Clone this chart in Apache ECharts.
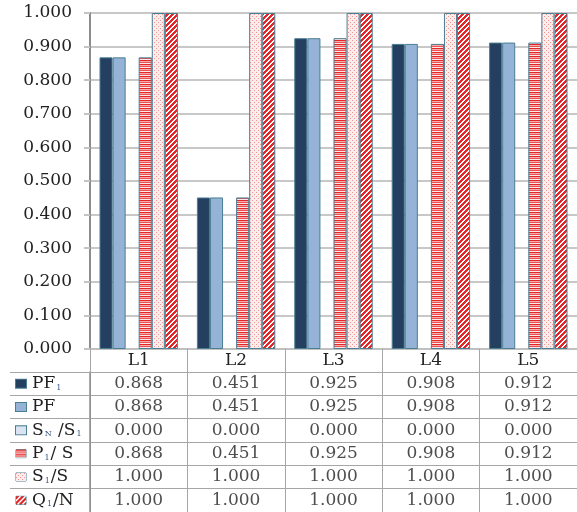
<!DOCTYPE html>
<html>
<head>
<meta charset="utf-8">
<script src="https://cdn.jsdelivr.net/npm/echarts@6/dist/echarts.min.js"></script>
<style>html,body{margin:0;padding:0;background:#fff;}#c{width:577px;height:512px;}</style>
</head>
<body>
<div id="c"></div>
<script>
// ---- data ----
const categories = ['L1', 'L2', 'L3', 'L4', 'L5'];
const seriesKeys = ['PF1', 'PF', 'SN/S1', 'P1/S', 'S1/S', 'Q1/N'];
const pf1 = [0.868, 0.451, 0.925, 0.908, 0.912];
const pf  = [0.868, 0.451, 0.925, 0.908, 0.912];
const snS1 = [0.000, 0.000, 0.000, 0.000, 0.000];
const p1S = [0.868, 0.451, 0.925, 0.908, 0.912];
const s1S = [1.000, 1.000, 1.000, 1.000, 1.000];
const q1N = [1.000, 1.000, 1.000, 1.000, 1.000];
const yMin = 0, yMax = 1, yStep = 0.1;

const allValues = [pf1, pf, snS1, p1S, s1S, q1N];

// ---- patterns ----
function pix(w, h, fn) {
  const c = document.createElement('canvas');
  c.width = w; c.height = h;
  const ctx = c.getContext('2d');
  const img = ctx.createImageData(w, h);
  for (let y = 0; y < h; y++) for (let x = 0; x < w; x++) {
    const col = fn(x, y);
    const i = (y * w + x) * 4;
    img.data[i] = col[0]; img.data[i+1] = col[1]; img.data[i+2] = col[2]; img.data[i+3] = 255;
  }
  ctx.putImageData(img, 0, 0);
  return c;
}
const RED = [228, 38, 40], W = [255, 255, 255];
const hStripeFn = (x, y) => [RED, [246, 170, 170], [236, 80, 80], [253, 232, 232]][y % 4];
const dotFn = (x, y) => ((x % 4 === 0 && y % 4 === 0) || (x % 4 === 2 && y % 4 === 2)) ? [238, 150, 150] : [252, 236, 236];
const diagFn = (x, y) => ((x + y) % 5) < 2.5 ? RED : W;

const pH = pix(4, 8, hStripeFn);
const pD = pix(8, 8, dotFn);
const pQ = pix(10, 10, diagFn);

const BORDER = '#4a7e93';
const fills = [
  '#243f5f',
  '#95b3d7',
  '#dbe5f1',
  { image: pH, repeat: 'repeat' },
  { image: pD, repeat: 'repeat' },
  { image: pQ, repeat: 'repeat' }
];
const iconImgs = [null, null, null, pix(10, 8, hStripeFn), pix(10, 8, dotFn), pix(10, 8, diagFn)];

const FONT = 'DejaVu Serif';
const TXT = '#222222';
const FS = 17;

// rich styles for table legend column
const rich = {
  sp: { width: 6 },
  t: { fontFamily: FONT, fontSize: FS, color: TXT, lineHeight: 20, verticalAlign: 'middle' },
  s: { fontFamily: FONT, fontSize: 8, color: '#3a5a8a', lineHeight: 8, verticalAlign: 'bottom', padding: [0, 1, 2, 1] }
};
fills.forEach((f, i) => {
  rich['b' + i] = {
    width: 10, height: 8,
    backgroundColor: iconImgs[i] ? { image: iconImgs[i] } : f,
    borderColor: BORDER, borderWidth: 1
  };
});
const legendText = [
  '{t|PF}{s|1}',
  '{t|PF}',
  '{t|S}{s|N}{t| /S}{s|1}',
  '{t|P}{s|1}{t|/ S}',
  '{t|S}{s|1}{t|/S}',
  '{t|Q}{s|1}{t|/N}'
];

// table cells
const tableData = [];
allValues.forEach((arr, r) => arr.forEach((v, c) => tableData.push([c, r, v])));

const GRID_LINE = '#a6a6a6';

const chart = echarts.init(document.getElementById('c'), null, { renderer: 'canvas' });
chart.setOption({
  animation: false,
  backgroundColor: '#fff',
  grid: [
    { left: 90, right: -4, top: 13, bottom: 163, containLabel: false },
    { left: 90, right: -4, top: 372, bottom: 0, containLabel: false }
  ],
  xAxis: [
    {
      type: 'category', gridIndex: 0, data: categories,
      axisLine: { show: true, lineStyle: { color: '#bdbdbd', width: 1.5 } },
      axisTick: { show: true, length: 23, interval: 0, lineStyle: { color: GRID_LINE, width: 1 } },
      axisLabel: { interval: 0, margin: 4, fontFamily: FONT, fontSize: FS, lineHeight: 16, color: TXT },
      splitLine: { show: false }
    },
    {
      type: 'category', gridIndex: 1, data: categories, position: 'top',
      axisLine: { show: true, lineStyle: { color: GRID_LINE, width: 1 } },
      axisTick: { show: false },
      axisLabel: { show: false },
      splitLine: { show: true, interval: 0, lineStyle: { color: GRID_LINE, width: 1 } }
    }
  ],
  yAxis: [
    {
      type: 'value', gridIndex: 0, min: yMin, max: yMax, interval: yStep,
      axisLine: { show: true, lineStyle: { color: '#8c8c8c', width: 2 } },
      axisTick: { show: true, length: 6, lineStyle: { color: '#c4c4c4', width: 2 } },
      axisLabel: { margin: 18, fontFamily: FONT, fontSize: FS, color: TXT, formatter: v => v.toFixed(3) },
      splitLine: { show: true, lineStyle: { color: '#c8c8c8', width: 2 } }
    },
    {
      type: 'category', gridIndex: 1, data: seriesKeys, inverse: true,
      axisLine: { show: true, lineStyle: { color: '#8c8c8c', width: 1.5 } },
      axisTick: { show: true, length: 80, interval: 0, lineStyle: { color: GRID_LINE, width: 1 } },
      axisLabel: {
        interval: 0, align: 'left', margin: 74,
        formatter: (v, i) => '{b' + i + '|}{sp|}' + legendText[i],
        rich: rich
      },
      splitLine: { show: true, interval: 0, lineStyle: { color: GRID_LINE, width: 1 } }
    },
    {
      type: 'category', gridIndex: 1, data: seriesKeys, inverse: true, offset: 80,
      axisLine: { show: true, lineStyle: { color: GRID_LINE, width: 1 } },
      axisTick: { show: false }, axisLabel: { show: false }, splitLine: { show: false }
    }
  ],
  series: allValues.map((arr, i) => ({
    type: 'bar', name: seriesKeys[i], xAxisIndex: 0, yAxisIndex: 0,
    data: arr,
    barGap: '0%', barCategoryGap: '19.5%',
    itemStyle: { color: fills[i], borderColor: BORDER, borderWidth: i === 2 ? 0 : 1 },
    emphasis: { disabled: true }
  })).concat([{
    type: 'scatter', xAxisIndex: 1, yAxisIndex: 1,
    data: tableData, symbolSize: 1,
    itemStyle: { color: 'rgba(0,0,0,0)' },
    label: {
      show: true, position: 'inside', fontFamily: FONT, fontSize: FS, color: TXT,
      formatter: p => p.value[2].toFixed(3)
    },
    emphasis: { disabled: true }
  }])
});
</script>
</body>
</html>
